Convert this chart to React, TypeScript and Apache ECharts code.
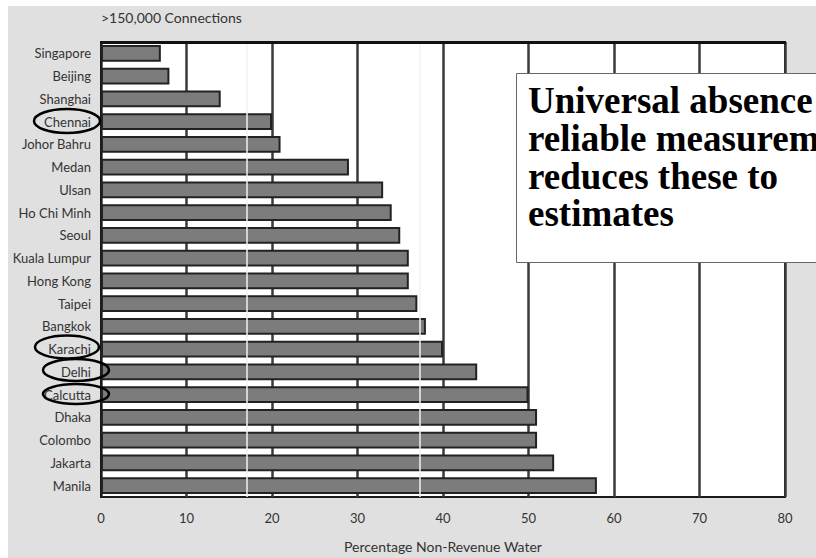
import React, { useEffect, useRef } from "react";
import * as echarts from "echarts";

const cities = [
  "Singapore", "Beijing", "Shanghai", "Chennai", "Johor Bahru", "Medan", "Ulsan",
  "Ho Chi Minh", "Seoul", "Kuala Lumpur", "Hong Kong", "Taipei", "Bangkok",
  "Karachi", "Delhi", "Calcutta", "Dhaka", "Colombo", "Jakarta", "Manila",
];
const nrwPercent = [7, 8, 14, 20, 21, 29, 33, 34, 35, 36, 36, 37, 38, 40, 44, 50, 51, 51, 53, 58];
const xTicks = [0, 10, 20, 30, 40, 50, 60, 70, 80];
const noteLines = ["Universal absence of", "reliable measurement", "reduces these to", "estimates"];
const titleText = ">150,000 Connections";
const axisTitle = "Percentage Non-Revenue Water";

export default function App() {
  const ref = useRef<HTMLDivElement>(null);
  useEffect(() => {
    if (!ref.current) return;
    const chart = echarts.init(ref.current, null, { renderer: "svg" });
    const font = "Lato, 'Open Sans', sans-serif";
    chart.setOption({
      animation: false,
      backgroundColor: "#e0e0e0",
      grid: {
        left: 101, right: 31, top: 42, bottom: 61,
        show: true, backgroundColor: "#ffffff", borderColor: "#1a1a1a", borderWidth: 2,
      },
      xAxis: {
        type: "value",
        min: xTicks[0],
        max: xTicks[xTicks.length - 1],
        interval: 10,
        axisLine: { show: false },
        axisTick: { show: false },
        axisLabel: { fontFamily: font, fontSize: 13, color: "#333", margin: 14 },
        splitLine: { show: true, lineStyle: { color: "#3a3a3a", width: 2.5 } },
        name: axisTitle,
        nameLocation: "middle",
        nameGap: 42,
        nameTextStyle: { fontFamily: font, fontSize: 14, color: "#333" },
      },
      yAxis: {
        type: "category",
        data: cities,
        inverse: true,
        axisLine: { show: true, lineStyle: { color: "#1a1a1a", width: 2 } },
        axisTick: { show: false },
        axisLabel: { fontFamily: font, fontSize: 13, color: "#333", margin: 10 },
      },
      series: [
        {
          type: "bar",
          data: nrwPercent,
          barCategoryGap: "26%",
          itemStyle: { color: "#7c7c7c", borderColor: "#222", borderWidth: 2 },
          markLine: {
            silent: true,
            symbol: "none",
            label: { show: false },
            lineStyle: { color: "#f2f2f2", width: 1.5, type: "solid" },
            data: [{ xAxis: 17.1 }, { xAxis: 37.3 }],
          },
        },
      ],
      graphic: [
        { type: "rect", shape: { x: 0, y: 0, width: 816, height: 6 }, style: { fill: "#ffffff" }, silent: true },
        { type: "rect", shape: { x: 0, y: 0, width: 8, height: 558 }, style: { fill: "#ffffff" }, silent: true },
        { type: "line", shape: { x1: 100, y1: 42.5, x2: 786, y2: 42.5 }, style: { stroke: "#111", lineWidth: 3 }, z: 10 },
        {
          type: "text", left: 101, top: 10,
          style: { text: titleText, font: `14px ${font}`, fill: "#333" },
        },
        { type: "ellipse", shape: { cx: 67, cy: 121, rx: 33, ry: 12 }, style: { fill: "none", stroke: "#000", lineWidth: 2.5 }, z: 20 },
        { type: "ellipse", shape: { cx: 67, cy: 347, rx: 32, ry: 11.5 }, style: { fill: "none", stroke: "#000", lineWidth: 2.5 }, z: 20 },
        { type: "ellipse", shape: { cx: 76, cy: 370, rx: 33, ry: 11 }, style: { fill: "none", stroke: "#000", lineWidth: 2.5 }, z: 20 },
        { type: "ellipse", shape: { cx: 76, cy: 394, rx: 33, ry: 10 }, style: { fill: "none", stroke: "#000", lineWidth: 2.5 }, z: 20 },
        {
          type: "rect", shape: { x: 516.5, y: 73.5, width: 320, height: 189 },
          style: { fill: "#ffffff", stroke: "#666", lineWidth: 1 }, z: 30,
        },
        {
          type: "text", x: 528, y: 82, z: 31,
          style: {
            text: noteLines.join("\n"),
            font: "bold 37px 'Liberation Serif', 'Times New Roman', serif",
            fill: "#000",
            lineHeight: 37.7,
          },
        },
      ],
    });
    return () => chart.dispose();
  }, []);
  return <div ref={ref} style={{ position: "absolute", left: 0, top: 0, width: 816, height: 558 }} />;
}
